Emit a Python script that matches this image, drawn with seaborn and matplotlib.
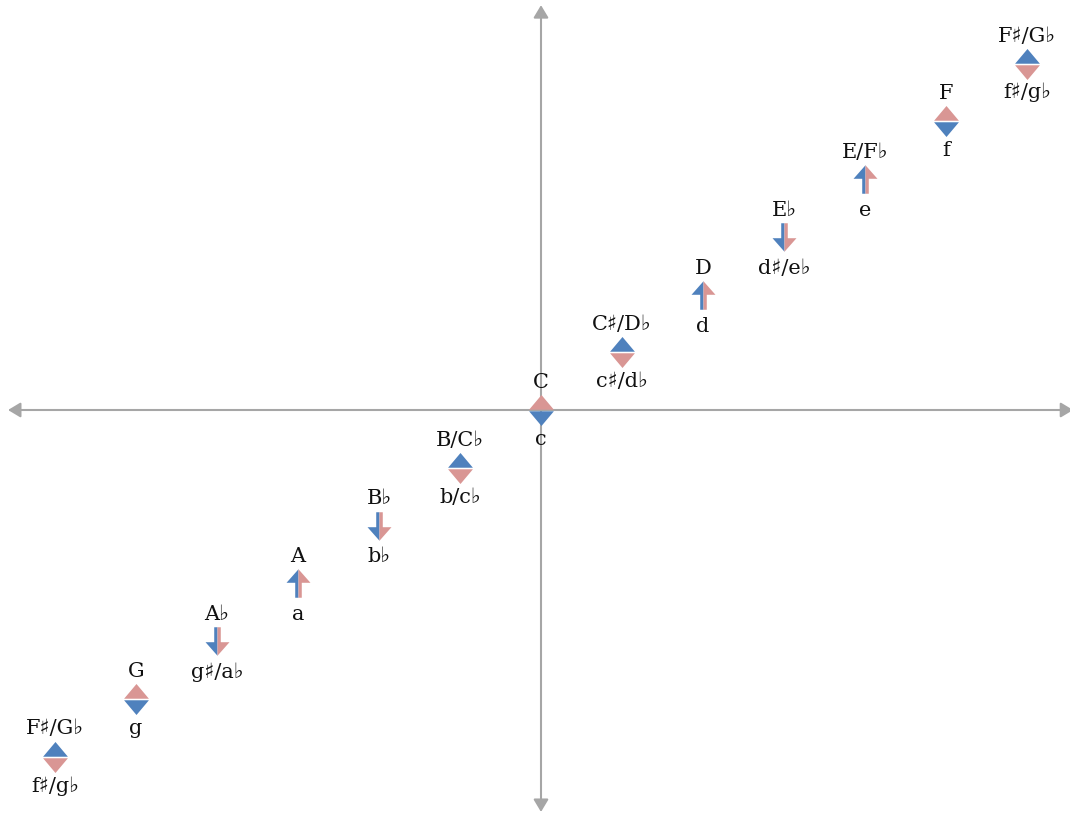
import matplotlib
matplotlib.use("Agg")
import matplotlib.pyplot as plt
import seaborn as sns
import pandas as pd
from matplotlib.path import Path

# ---- data ----
semitones = [-6, -5, -4, -3, -2, -1, 0, 1, 2, 3, 4, 5, 6]
major_keys = ["F♯/G♭", "G", "A♭", "A", "B♭", "B/C♭", "C", "C♯/D♭", "D", "E♭", "E/F♭", "F", "F♯/G♭"]
minor_keys = ["f♯/g♭", "g", "g♯/a♭", "a", "b♭", "b/c♭", "c", "c♯/d♭", "d", "d♯/e♭", "e", "f", "f♯/g♭"]
symbols = ["diamond_blue_top", "diamond_pink_top", "arrow_down", "arrow_up", "arrow_down",
           "diamond_blue_top", "diamond_pink_top", "diamond_blue_top", "arrow_up", "arrow_down",
           "arrow_up", "diamond_pink_top", "diamond_blue_top"]

BLUE = "#4F81BD"
PINK = "#D99694"
GRAY = "#A6A6A6"

sns.set_theme(style="white")
plt.rcParams["font.family"] = ["DejaVu Serif", "DejaVu Sans"]

# ---- marker shapes ----
g = 0.05
tri_top = Path([(-0.8, g), (0.8, g), (0, 1), (-0.8, g)], closed=True)
tri_bot = Path([(-0.8, -g), (0.8, -g), (0, -1), (-0.8, -g)], closed=True)
sw, hw, hb = 0.23, 0.84, 0.05
arr_up_left = Path([(0, -1), (-sw, -1), (-sw, hb), (-hw, hb), (0, 1), (0, -1)], closed=True)
arr_up_right = Path([(0, -1), (sw, -1), (sw, hb), (hw, hb), (0, 1), (0, -1)], closed=True)
arr_dn_left = Path([(0, 1), (-sw, 1), (-sw, -hb), (-hw, -hb), (0, -1), (0, 1)], closed=True)
arr_dn_right = Path([(0, 1), (sw, 1), (sw, -hb), (hw, -hb), (0, -1), (0, 1)], closed=True)

DIAM_S = (31 * 0.72) ** 2
ARR_S = (28.5 * 0.72) ** 2
pieces = {
    "diamond_blue_top": [(tri_top, BLUE, DIAM_S), (tri_bot, PINK, DIAM_S)],
    "diamond_pink_top": [(tri_top, PINK, DIAM_S), (tri_bot, BLUE, DIAM_S)],
    "arrow_up": [(arr_up_left, BLUE, ARR_S), (arr_up_right, PINK, ARR_S)],
    "arrow_down": [(arr_dn_left, BLUE, ARR_S), (arr_dn_right, PINK, ARR_S)],
}

df = pd.DataFrame({"x": semitones, "y": semitones, "major": major_keys,
                   "minor": minor_keys, "symbol": symbols})

fig = plt.figure(figsize=(10.7, 8.14), dpi=100)
ax = fig.add_axes([0, 0, 1, 1])
XS, YS = 81.0, 57.75
ax.set_xlim(-541 / XS, 529 / XS)
ax.set_ylim((410 - 814) / YS, 410 / YS)
ax.axis("off")

# coordinate axes with arrowheads
arrow_kw = dict(arrowstyle="<|-|>,head_length=0.75,head_width=0.45", color=GRAY,
                lw=1.5, shrinkA=0, shrinkB=0, mutation_scale=10)
ax.annotate("", xy=(6.57, 0), xytext=(-6.58, 0), arrowprops=arrow_kw, annotation_clip=False)
ax.annotate("", xy=(0, 7.01), xytext=(0, -6.96), arrowprops=arrow_kw, annotation_clip=False)

# markers
for sym, parts in pieces.items():
    sub = df[df["symbol"] == sym]
    for path, col, s in parts:
        sns.scatterplot(data=sub, x="x", y="y", marker=path, color=col, s=s,
                        linewidth=0, ax=ax, legend=False, zorder=3)

# labels
for _, r in df.iterrows():
    is_arrow = r["symbol"].startswith("arrow")
    up = 21 if is_arrow else 22
    dn = 37 if is_arrow else 35
    ax.annotate(r["major"], (r["x"], r["y"]), xytext=(0, up * 0.72), textcoords="offset points",
                ha="center", va="baseline", fontsize=15, color="#111111")
    ax.annotate(r["minor"], (r["x"], r["y"]), xytext=(0, -dn * 0.72), textcoords="offset points",
                ha="center", va="baseline", fontsize=15, color="#111111")

ax.set_xlabel("")
ax.set_ylabel("")
fig.savefig("out.png", dpi=100)
